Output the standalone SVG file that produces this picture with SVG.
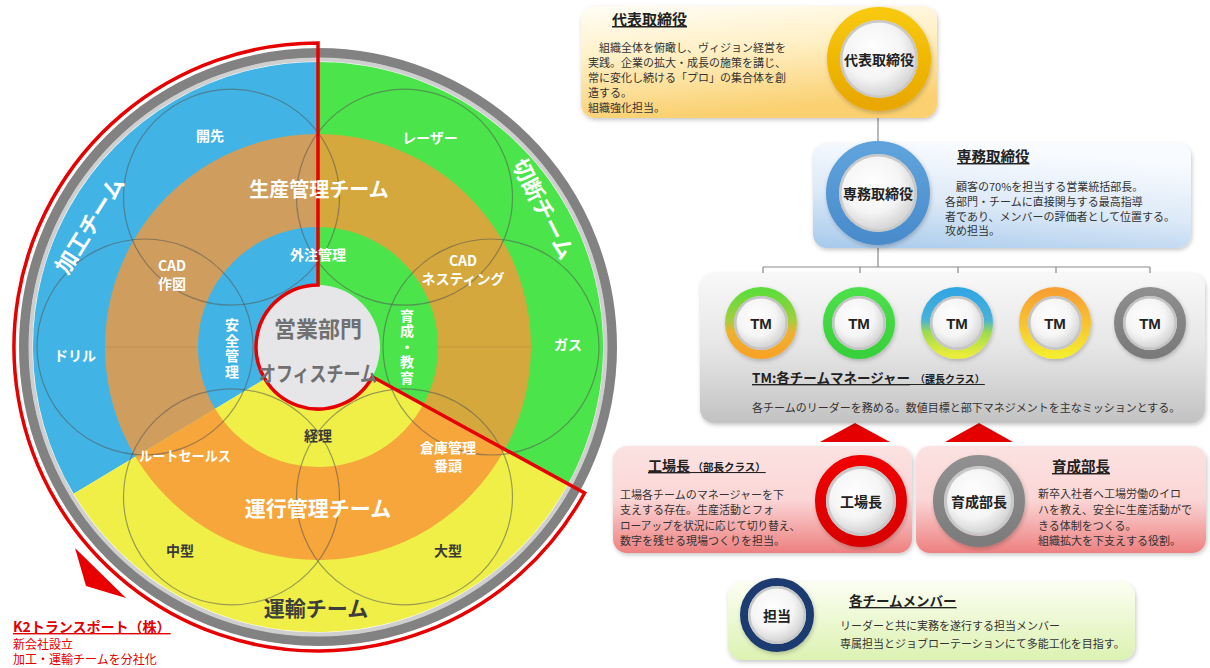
<svg xmlns="http://www.w3.org/2000/svg" width="1210" height="668" viewBox="0 0 1210 668">
<style>
.jp{font-family:"Noto Sans CJK JP","Noto Sans CJK SC",sans-serif}
.c{text-anchor:middle;dominant-baseline:central}
.wl{fill:#fff;font-size:14px;font-weight:bold}
.dk{fill:#3a3a3a;font-size:14px;font-weight:bold}
.body{fill:#333;font-size:11px}
.ttl{fill:#222;font-weight:bold;text-decoration:underline}
.cl{fill:#222;font-weight:bold;font-size:14px}
.ol{fill:none;stroke:#555;stroke-opacity:.55;stroke-width:1.2}
.con{stroke:#8a8a8a;stroke-width:1.2;fill:none}
</style>
<defs>
<filter id="sh" x="-10%" y="-10%" width="125%" height="135%"><feDropShadow dx="1" dy="2" stdDeviation="2" flood-color="#000" flood-opacity="0.22"/></filter>
<linearGradient id="gYel" x1="0" y1="0" x2="0.25" y2="1"><stop offset="0" stop-color="#FFFDF6"/><stop offset="0.45" stop-color="#FFF0C6"/><stop offset="1" stop-color="#FAD070"/></linearGradient>
<linearGradient id="gBlue" x1="0.3" y1="0" x2="0" y2="1"><stop offset="0" stop-color="#F8FBFF"/><stop offset="0.5" stop-color="#DCE9F7"/><stop offset="1" stop-color="#A6C9EC"/></linearGradient>
<linearGradient id="gGray" x1="0" y1="0" x2="0" y2="1"><stop offset="0" stop-color="#F8F8F8"/><stop offset="0.5" stop-color="#E6E6E6"/><stop offset="1" stop-color="#C2C2C2"/></linearGradient>
<linearGradient id="gPink" x1="0" y1="0" x2="0" y2="1"><stop offset="0" stop-color="#FCE2E2"/><stop offset="0.5" stop-color="#FBD6D6"/><stop offset="1" stop-color="#EE8080"/></linearGradient>
<linearGradient id="gGreen" x1="0" y1="0" x2="0" y2="1"><stop offset="0" stop-color="#FCFEF2"/><stop offset="1" stop-color="#DCF2B2"/></linearGradient>
<radialGradient id="gWhite" cx="0.42" cy="0.38" r="0.65"><stop offset="0" stop-color="#FFFFFF"/><stop offset="0.6" stop-color="#F5F5F5"/><stop offset="1" stop-color="#D2D2D2"/></radialGradient>
<linearGradient id="gGold" x1="0" y1="0" x2="0" y2="1"><stop offset="0" stop-color="#F7C80A"/><stop offset="1" stop-color="#E9A800"/></linearGradient>
<linearGradient id="gBl" x1="0" y1="0" x2="0" y2="1"><stop offset="0" stop-color="#5FA3DC"/><stop offset="1" stop-color="#4A8CCC"/></linearGradient>
<linearGradient id="gTM1" x1="0" y1="0" x2="0" y2="1"><stop offset="0" stop-color="#5EDC3A"/><stop offset="0.45" stop-color="#A2CF3E"/><stop offset="0.65" stop-color="#F0B030"/><stop offset="1" stop-color="#F6A328"/></linearGradient>
<linearGradient id="gTM2" x1="0" y1="0" x2="0" y2="1"><stop offset="0" stop-color="#4BE04A"/><stop offset="1" stop-color="#38D03C"/></linearGradient>
<linearGradient id="gTM3" x1="0" y1="0" x2="0" y2="1"><stop offset="0" stop-color="#33A6E2"/><stop offset="0.45" stop-color="#48B2D8"/><stop offset="0.65" stop-color="#9CDC4E"/><stop offset="1" stop-color="#E8EC3A"/></linearGradient>
<linearGradient id="gTM4" x1="0" y1="0" x2="0" y2="1"><stop offset="0" stop-color="#F6A033"/><stop offset="0.5" stop-color="#F8C232"/><stop offset="1" stop-color="#F4EC2E"/></linearGradient>
<linearGradient id="gTM5" x1="0" y1="0" x2="0" y2="1"><stop offset="0" stop-color="#8E8E8E"/><stop offset="1" stop-color="#7A7A7A"/></linearGradient>
<linearGradient id="gRed" x1="0" y1="0" x2="0" y2="1"><stop offset="0" stop-color="#F00000"/><stop offset="1" stop-color="#D80000"/></linearGradient>
<linearGradient id="gGr" x1="0" y1="0" x2="0" y2="1"><stop offset="0" stop-color="#909090"/><stop offset="1" stop-color="#7C7C7C"/></linearGradient>
</defs>
<rect width="1210" height="668" fill="#fff"/>

<!-- Wheel -->
<g id="wheel">
  <circle cx="318" cy="347" r="294" fill="none" stroke="#828282" stroke-width="10"/>
  <circle cx="318" cy="347" r="287.5" fill="none" stroke="#cfcfcf" stroke-width="4"/>
  <path id="sector-kako" d="M318 347 L73.7 493.8 A285 285 0 0 1 318 62 Z" fill="#41B4E5"/>
  <path id="sector-setsudan" d="M318 347 L318 62 A285 285 0 0 1 568 483.9 Z" fill="#4BE44B"/>
  <path id="sector-unyu" d="M318 347 L568 483.9 A285 285 0 0 1 73.7 493.8 Z" fill="#EFEF48"/>
  <path d="M135.4 456.7 A213 213 0 0 1 318 134 L318 227 A120 120 0 0 0 215.1 408.8 Z" fill="#CF9D5E"/>
  <path d="M318 134 A213 213 0 0 1 504.8 449.3 L423.3 404.6 A120 120 0 0 0 318 227 Z" fill="#D4A83C"/>
  <path d="M504.8 449.3 A213 213 0 0 1 135.4 456.7 L215.1 408.8 A120 120 0 0 0 423.3 404.6 Z" fill="#F6A63A"/>
  <line x1="105" y1="347" x2="198" y2="347" stroke="#a07840" stroke-opacity=".35"/>
  <line x1="438" y1="347" x2="531" y2="347" stroke="#a07840" stroke-opacity=".35"/>
  <circle class="ol" cx="231.5" cy="197.2" r="108"/>
  <circle class="ol" cx="404.5" cy="197.2" r="108"/>
  <circle class="ol" cx="491" cy="347" r="108"/>
  <circle class="ol" cx="404.5" cy="496.8" r="108"/>
  <circle class="ol" cx="231.5" cy="496.8" r="108"/>
  <circle class="ol" cx="145" cy="347" r="108"/>
  <circle cx="318" cy="347" r="62" fill="#E6E6E8"/>
  <path d="M318 43 L318 285 A62 62 0 1 0 372.4 376.8 L584.6 493 A304 304 0 1 1 318 43 Z" fill="none" stroke="#E60000" stroke-width="3.5" stroke-linejoin="miter"/>
  <polygon points="75,548 126,598 86,586" fill="#E80000"/>
</g>

<g id="wheel-labels" class="jp">
  <text class="c" transform="translate(88,224) rotate(-58)" fill="#fff" font-size="22" font-weight="bold">加工チーム</text>
  <text class="c" transform="translate(545,208) rotate(63)" fill="#fff" font-size="22" font-weight="bold">切断チーム</text>
  <text class="c" x="319" y="188" fill="#fff" font-size="20" font-weight="bold">生産管理チーム</text>
  <text class="c" x="318" y="507" fill="#fff" font-size="21" font-weight="bold">運行管理チーム</text>
  <text class="c" x="316" y="607" fill="#3d3d3d" font-size="21" font-weight="bold">運輸チーム</text>
  <text class="c wl" x="210" y="135">開先</text>
  <text class="c wl" x="430" y="137" font-weight="normal">レーザー</text>
  <text class="c wl" x="172" y="265" fill="#FBF2E2">CAD</text>
  <text class="c wl" x="172" y="283" fill="#FBF2E2">作図</text>
  <text class="c wl" x="463" y="260" fill="#FBF2E2">CAD</text>
  <text class="c wl" x="463" y="278" fill="#FBF2E2">ネスティング</text>
  <text class="c wl" x="318" y="254">外注管理</text>
  <text class="wl" x="232" y="349" writing-mode="tb" text-anchor="middle" font-size="13.5" letter-spacing="1.5">安全管理</text>
  <text class="wl" x="407" y="347" writing-mode="tb" text-anchor="middle" font-size="13.5" letter-spacing="1.5">育成・教育</text>
  <text class="c wl" x="75" y="355">ドリル</text>
  <text class="c wl" x="568" y="344">ガス</text>
  <text class="c" x="318" y="327" fill="#707070" font-size="22" font-weight="bold">営業部門</text>
  <text class="c" x="318" y="372" fill="#707070" font-size="21" font-weight="bold" textLength="118" lengthAdjust="spacingAndGlyphs">オフィスチーム</text>
  <text class="c dk" x="318" y="435" fill="#555">経理</text>
  <text class="c wl" x="185" y="455" textLength="92" lengthAdjust="spacingAndGlyphs">ルートセールス</text>
  <text class="c wl" x="448" y="447">倉庫管理</text>
  <text class="c wl" x="448" y="465">番頭</text>
  <text class="c dk" x="180" y="550">中型</text>
  <text class="c dk" x="448" y="550">大型</text>
</g>

<g id="k2-note" class="jp" fill="#E00000">
  <text x="13" y="632" font-size="14" font-weight="bold" text-decoration="underline">K2トランスポート（株）</text>
  <text x="13" y="649" font-size="12">新会社設立</text>
  <text x="13" y="664" font-size="12">加工・運輸チームを分社化</text>
</g>

<!-- connectors -->
<g id="connectors">
  <line class="con" x1="878" y1="110" x2="878" y2="143"/>
  <line class="con" x1="878" y1="246" x2="878" y2="267"/>
  <line class="con" x1="763" y1="267" x2="1150" y2="267"/>
  <line class="con" x1="763" y1="267" x2="763" y2="288"/>
  <line class="con" x1="860" y1="267" x2="860" y2="288"/>
  <line class="con" x1="958" y1="267" x2="958" y2="288"/>
  <line class="con" x1="1056" y1="267" x2="1056" y2="288"/>
  <line class="con" x1="1150" y1="267" x2="1150" y2="288"/>
  <polygon points="820,442 855,423 890,442" fill="#E40000"/>
  <polygon points="945,442 979,423 1013,442" fill="#E40000"/>
</g>

<!-- 代表取締役 -->
<g id="node-daihyo" class="jp">
  <rect x="581" y="6" width="356" height="112" rx="14" fill="url(#gYel)" filter="url(#sh)"/>
  <text class="ttl" x="612" y="25" font-size="15">代表取締役</text>
  <text class="body" x="588" y="52">　組織全体を俯瞰し、ヴィジョン経営を</text>
  <text class="body" x="588" y="67">実践。企業の拡大・成長の施策を講じ、</text>
  <text class="body" x="588" y="82">常に変化し続ける「プロ」の集合体を創</text>
  <text class="body" x="588" y="97">造する。</text>
  <text class="body" x="588" y="112">組織強化担当。</text>
  <circle cx="879" cy="59" r="45.5" fill="none" stroke="url(#gGold)" stroke-width="13" filter="url(#sh)"/>
  <circle cx="879" cy="59" r="39" fill="#C9C9C9"/>
  <circle cx="879" cy="59" r="36.5" fill="url(#gWhite)"/>
  <text class="c cl" x="879" y="59">代表取締役</text>
</g>

<!-- 専務取締役 -->
<g id="node-senmu" class="jp">
  <rect x="813" y="143" width="378" height="105" rx="14" fill="url(#gBlue)" filter="url(#sh)"/>
  <text class="ttl" x="957" y="162" font-size="14.5">専務取締役</text>
  <text class="body" x="945" y="191">　顧客の70%を担当する営業統括部長。</text>
  <text class="body" x="945" y="206">各部門・チームに直接関与する最高指導</text>
  <text class="body" x="945" y="221">者であり、メンバーの評価者として位置する。</text>
  <text class="body" x="945" y="235">攻め担当。</text>
  <circle cx="878" cy="193" r="45.5" fill="none" stroke="url(#gBl)" stroke-width="13" filter="url(#sh)"/>
  <circle cx="878" cy="193" r="39" fill="#C9C9C9"/>
  <circle cx="878" cy="193" r="36.5" fill="url(#gWhite)"/>
  <text class="c cl" x="878" y="193">専務取締役</text>
</g>

<!-- TM panel -->
<g id="node-tm" class="jp">
  <rect x="700" y="273" width="505" height="150" rx="14" fill="url(#gGray)" filter="url(#sh)"/>
  <g id="tm1"><circle cx="761" cy="323" r="31.5" fill="none" stroke="url(#gTM1)" stroke-width="9" filter="url(#sh)"/><circle cx="761" cy="323" r="27" fill="#C4C4C4"/><circle cx="761" cy="323" r="24.5" fill="url(#gWhite)"/><text class="c" x="761" y="323" font-family="Liberation Sans,Arial,sans-serif" font-weight="bold" font-size="15" fill="#222">TM</text></g>
  <g id="tm2"><circle cx="859" cy="323" r="31.5" fill="none" stroke="url(#gTM2)" stroke-width="9" filter="url(#sh)"/><circle cx="859" cy="323" r="27" fill="#C4C4C4"/><circle cx="859" cy="323" r="24.5" fill="url(#gWhite)"/><text class="c" x="859" y="323" font-family="Liberation Sans,Arial,sans-serif" font-weight="bold" font-size="15" fill="#222">TM</text></g>
  <g id="tm3"><circle cx="957" cy="323" r="31.5" fill="none" stroke="url(#gTM3)" stroke-width="9" filter="url(#sh)"/><circle cx="957" cy="323" r="27" fill="#C4C4C4"/><circle cx="957" cy="323" r="24.5" fill="url(#gWhite)"/><text class="c" x="957" y="323" font-family="Liberation Sans,Arial,sans-serif" font-weight="bold" font-size="15" fill="#222">TM</text></g>
  <g id="tm4"><circle cx="1055" cy="323" r="31.5" fill="none" stroke="url(#gTM4)" stroke-width="9" filter="url(#sh)"/><circle cx="1055" cy="323" r="27" fill="#C4C4C4"/><circle cx="1055" cy="323" r="24.5" fill="url(#gWhite)"/><text class="c" x="1055" y="323" font-family="Liberation Sans,Arial,sans-serif" font-weight="bold" font-size="15" fill="#222">TM</text></g>
  <g id="tm5"><circle cx="1150" cy="323" r="31.5" fill="none" stroke="url(#gTM5)" stroke-width="9" filter="url(#sh)"/><circle cx="1150" cy="323" r="27" fill="#C4C4C4"/><circle cx="1150" cy="323" r="24.5" fill="url(#gWhite)"/><text class="c" x="1150" y="323" font-family="Liberation Sans,Arial,sans-serif" font-weight="bold" font-size="15" fill="#222">TM</text></g>
  <text class="ttl" x="752" y="383" font-size="13.5">TM:各チームマネージャー<tspan font-size="10">　（課長クラス）</tspan></text>
  <text class="body" x="752" y="412" font-size="10.5">各チームのリーダーを務める。数値目標と部下マネジメントを主なミッションとする。</text>
</g>

<!-- 工場長 -->
<g id="node-kojocho" class="jp">
  <rect x="613" y="446" width="299" height="107" rx="14" fill="url(#gPink)" filter="url(#sh)"/>
  <text class="ttl" x="648" y="471" font-size="14">工場長<tspan font-size="10.5"> （部長クラス）</tspan></text>
  <text class="body" x="620" y="499">工場各チームのマネージャーを下</text>
  <text class="body" x="620" y="514">支えする存在。生産活動とフォ</text>
  <text class="body" x="620" y="530" textLength="180" lengthAdjust="spacingAndGlyphs">ローアップを状況に応じて切り替え、</text>
  <text class="body" x="620" y="545">数字を残せる現場つくりを担当。</text>
  <circle cx="861" cy="501" r="40.5" fill="none" stroke="url(#gRed)" stroke-width="11" filter="url(#sh)"/>
  <circle cx="861" cy="501" r="35" fill="#C8C8C8"/>
  <circle cx="861" cy="501" r="32" fill="url(#gWhite)"/>
  <text class="c cl" x="861" y="501" font-size="15">工場長</text>
</g>

<!-- 育成部長 -->
<g id="node-ikusei" class="jp">
  <rect x="916" y="446" width="290" height="107" rx="14" fill="url(#gPink)" filter="url(#sh)"/>
  <text class="ttl" x="1052" y="472" font-size="14.5">育成部長</text>
  <text class="body" x="1038" y="498">新卒入社者へ工場労働のイロ</text>
  <text class="body" x="1038" y="514">ハを教え、安全に生産活動がで</text>
  <text class="body" x="1038" y="530">きる体制をつくる。</text>
  <text class="body" x="1038" y="545">組織拡大を下支えする役割。</text>
  <circle cx="979" cy="501" r="40.5" fill="none" stroke="url(#gGr)" stroke-width="11" filter="url(#sh)"/>
  <circle cx="979" cy="501" r="35" fill="#C8C8C8"/>
  <circle cx="979" cy="501" r="32" fill="url(#gWhite)"/>
  <text class="c cl" x="979" y="501">育成部長</text>
</g>

<!-- 担当 -->
<g id="node-tanto" class="jp">
  <rect x="728" y="582" width="407" height="78" rx="14" fill="url(#gGreen)" filter="url(#sh)"/>
  <text class="ttl" x="849" y="606" font-size="13.5">各チームメンバー</text>
  <text class="body" x="840" y="630">リーダーと共に実務を遂行する担当メンバー</text>
  <text class="body" x="840" y="648">専属担当とジョブローテーションにて多能工化を目指す。</text>
  <circle cx="777" cy="615" r="33" fill="none" stroke="#1F3A70" stroke-width="8" filter="url(#sh)"/>
  <circle cx="777" cy="615" r="29" fill="#C8C8C8"/>
  <circle cx="777" cy="615" r="26.5" fill="url(#gWhite)"/>
  <text class="c cl" x="777" y="615">担当</text>
</g>
</svg>
